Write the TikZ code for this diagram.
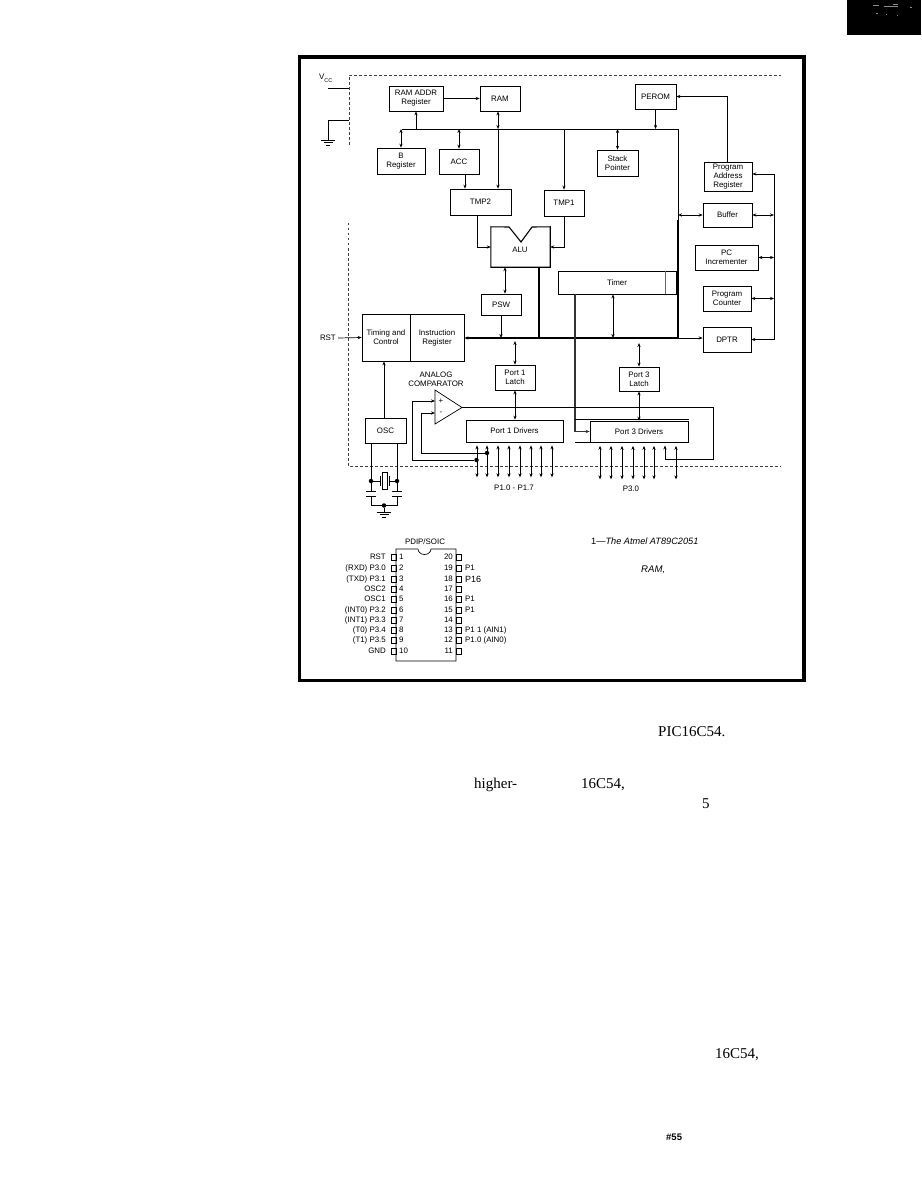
\documentclass[tikz,border=0pt]{standalone}
\usepackage{fontspec}
\setmainfont{Liberation Sans}
\newfontfamily\bodyfont{Liberation Serif}
\usetikzlibrary{arrows.meta}
\tikzset{
	blk/.style={draw,line width=.7pt,inner sep=0pt,align=center,font=\fontsize{7.9}{9}\selectfont},
	lbl/.style={inner sep=0pt,align=center,font=\fontsize{7.9}{9}\selectfont},
	wire/.style={line width=.7pt},
	fat/.style={line width=1.5pt},
	bnd/.style={line width=.5pt,dash pattern=on 2.5pt off 2.5pt,black!75},
	dot/.style={circle,fill,inner sep=0pt,minimum size=4.5pt},
	pinbox/.style={draw,line width=.5pt,minimum width=5pt,minimum height=6.5pt,inner sep=0pt},
	body/.style={inner sep=0pt,anchor=west,font=\bodyfont\fontsize{15}{16}\selectfont},
	gnd/.pic={
		\draw[wire] (-7,0) -- (7,0);
		\draw[wire] (-4.5,2.5) -- (4.5,2.5);
		\draw[wire] (-2,5) -- (2,5);
	},
}
\begin{document}
\begin{tikzpicture}[x=1pt,y=-1pt,>={Stealth[length=4pt,width=3.2pt]}]
	\useasboundingbox (0,0) rectangle (921,1190);

	% corner block
	\fill[black] (847,0) rectangle (921,35);
	\foreach \x/\y/\w in {873/5/6,884/6/14,893/4/5,876/13/2,910/7/2,886/14/1,897/15/1}
		\fill[black!45] (\x,\y) rectangle ++(\w,1);

	% outer frame
	\draw[line width=3.5pt] (299.5,57) rectangle (804,680.5);

	% chip boundary
	\draw[bnd] (349,145) -- (349,75) -- (781,75);
	\draw[bnd] (348,223) -- (348,466) -- (781,466);

	% supply
	\node[lbl,anchor=west] (vcc) at (319,78) {V\raisebox{-3pt}{\fontsize{5.5}{6}\selectfont CC}};
	\coordinate (vccin) at (349,88);
	\coordinate (gndin) at (349,120);
	\coordinate (gndpt) at (328,140);
	\draw[wire] (vccin) -- ++(-21,0);
	\draw[wire] (gndin) -| (gndpt);
	\pic at (gndpt) {gnd};

	% registers
	\node[blk,minimum width=54pt,minimum height=25pt] (ramaddr) at (416,98.5) {RAM ADDR\\Register};
	\node[blk,minimum width=40pt,minimum height=25pt] (ram) at (500,98.5) {RAM};
	\node[blk,minimum width=48pt,minimum height=26pt] (breg) at (401,161) {B\\Register};
	\node[blk,minimum width=40pt,minimum height=25pt] (acc) at (459,161.5) {ACC};
	\node[blk,minimum width=61pt,minimum height=26pt] (tmptwo) at (480.5,202) {TMP2};
	\node[blk,minimum width=40pt,minimum height=26pt] (tmpone) at (564,203) {TMP1};
	\node[blk,minimum width=41pt,minimum height=26pt] (stack) at (617.5,163) {Stack\\Pointer};
	\node[blk,minimum width=41pt,minimum height=25pt] (perom) at (655.5,96.5) {PEROM};
	\node[blk,minimum width=48pt,minimum height=29pt] (progaddr) at (728,176.5) {Program\\Address\\Register};
	\node[blk,minimum width=49pt,minimum height=24pt] (buffer) at (727.5,215) {Buffer};
	\node[blk,minimum width=63pt,minimum height=25pt] (pcinc) at (726.5,257.5) {PC\\Incrementer};
	\node[blk,minimum width=48pt,minimum height=25pt] (progcnt) at (727,298.5) {Program\\Counter};
	\node[blk,minimum width=48pt,minimum height=25pt] (dptr) at (727,339.5) {DPTR};
	\node[blk,minimum width=118pt,minimum height=23pt] (timer) at (617,282.5) {Timer};
	\node[blk,minimum width=40pt,minimum height=21pt] (psw) at (501,304.5) {PSW};
	\node[blk,minimum width=48pt,minimum height=47pt] (timing) at (386,337.5) {Timing and\\Control};
	\node[blk,minimum width=54pt,minimum height=47pt] (instr) at (437,337.5) {Instruction\\Register};
	\node[blk,minimum width=41pt,minimum height=25pt] (osc) at (385.5,430.5) {OSC};
	\node[blk,minimum width=40pt,minimum height=25pt] (latchone) at (515,377.5) {Port 1\\Latch};
	\node[blk,minimum width=40pt,minimum height=24pt] (latchthree) at (639,379) {Port 3\\Latch};
	\node[blk,minimum width=97pt,minimum height=22pt] (drvone) at (514.5,431) {Port 1 Drivers};
	\node[blk,minimum width=98pt,minimum height=21pt] (drvthree) at (639,431.5) {Port 3 Drivers};

	% ALU with its notch
	\node[minimum width=59pt,minimum height=40pt,inner sep=0pt] (alu) at (520.5,247) {};
	\node[lbl] (alutext) at (520,250) {ALU};
	\draw[line width=1.1pt] (alu.north west) -- (509,227) -- (521,242) -- (532,227) -- (alu.north east) -- (alu.south east) -- (alu.south west) -- cycle;
	\draw[wire,black!60] ([xshift=-11pt]timer.north east) -- ([xshift=-11pt]timer.south east);

	% buses
	\coordinate (bustl) at (402,129);
	\coordinate (bustr) at (678,129);
	\coordinate (busmain) at (600,338);
	\coordinate (busfat) at (677.5,220);
	\coordinate (busrt) at (774,174);
	\coordinate (busrb) at (774,340);
	\draw[wire] (bustl) -- (bustr) -- (bustr |- busmain);
	\draw[fat] (busfat) -- (busfat |- busmain);
	\draw[fat,<-] (instr.east |- busmain) -- (busfat |- busmain);
	\draw[wire,->] (busfat |- busmain) -- (dptr.west |- busmain);
	\draw[wire] (busrt) -- (busrb);

	% register connections
	\draw[wire,->] (ramaddr.east) -- (ram.west);
	\draw[wire,->] (ramaddr.south |- bustl) -- (ramaddr.south);
	\draw[wire,<->] (breg.north) -- (breg.north |- bustl);
	\draw[wire,<->] (acc.north) -- (acc.north |- bustl);
	\draw[wire,<->] ([xshift=-2pt]ram.south) -- ([xshift=-2pt]ram.south |- bustl);
	\draw[wire,->] ([xshift=-2pt]ram.south |- bustl) -- ([xshift=-2pt]ram.south |- tmptwo.north);
	\draw[wire,->] ([xshift=6pt]acc.south) -- ([xshift=6pt]acc.south |- tmptwo.north);
	\draw[wire,->] (tmpone.north |- bustl) -- (tmpone.north);
	\draw[wire,<->] (stack.north) -- (stack.north |- bustl);
	\draw[wire,->] (perom.south) -- (perom.south |- bustl);
	\draw[wire,->] ([xshift=-1pt]progaddr.north) |- (perom.east);
	\draw[wire,->] ([xshift=-3.5pt]tmptwo.south) |- (alu.west);
	\draw[wire,->] (tmpone.south) |- (alu.east);
	\draw[wire,<->] ([xshift=-15.5pt]alu.south) -- ([xshift=4pt]psw.north);
	\draw[fat] ([xshift=18.5pt]alu.south) -- ([xshift=18.5pt]alu.south |- busmain);
	\draw[wire,->] (psw.south) -- (psw.south |- busmain);
	\draw[wire,<->] ([xshift=-4pt]timer.south) -- ([xshift=-4pt]timer.south |- busmain);
	\draw[wire,<->] (buffer.west) -- (bustr |- buffer.west);
	\draw[wire,<-] (busrt -| progaddr.east) -- (busrt);
	\draw[wire,<->] (buffer.east) -- (busrt |- buffer.east);
	\draw[wire,<->] (pcinc.east) -- (busrt |- pcinc.east);
	\draw[wire,<->] (progcnt.east) -- (busrt |- progcnt.east);
	\draw[wire,<-] (dptr.east) -- (busrb |- dptr.east);

	% timing and clock
	\node[lbl,anchor=east] (rst) at (336,338) {RST};
	\draw[wire,->] (rst.east) ++(2,0) -- (timing.west);
	\draw[wire,->] ([xshift=-1.5pt]osc.north) -- ([xshift=-1.5pt]osc.north |- timing.south);

	% ports
	\draw[wire,<->] ([yshift=-3pt]latchone.north |- busmain) -- (latchone.north);
	\draw[wire,<->] (latchone.south) -- (latchone.south |- drvone.north);
	\draw[wire,<->] ([yshift=-5pt]latchthree.north |- busmain) -- (latchthree.north);
	\draw[wire,<->] (latchthree.south) -- (latchthree.south |- drvthree.north);
	\foreach \x in {-37.5,-27.5,-16.5,-5.5,5.5,16.5,26.5,37.5}
		\draw[wire,<->] ([shift={(\x,3)}]drvone.south) -- ([shift={(\x,35)}]drvone.south);
	\foreach \x in {-39,-28,-17,-6,5,15,37}
		\draw[wire,<->] ([shift={(\x,3.5)}]drvthree.south) -- ([shift={(\x,37)}]drvthree.south);
	\node[lbl] (plone) at (514,488) {P1.0 - P1.7};
	\node[lbl] (plthree) at (631,489) {P3.0};

	% timer output into port 3
	\coordinate (tmrout) at (575,338);
	\draw[fat,black!80] ([xshift=-42pt]timer.south) -- (tmrout);
	\draw[line width=1.1pt,black!80,->] (tmrout) |- (drvthree.west);
	\draw[wire] (drvthree.north west) ++(-15,-1) -- ++(114,0);
	\draw[wire] (drvthree.south west) -- ++(-15,0);

	% analog comparator
	\node[lbl] (cmptext) at (436,379.5) {ANALOG\\COMPARATOR};
	\coordinate (cmpa) at (435,390);
	\coordinate (cmpb) at (435,424);
	\coordinate (cmpout) at (462,407.5);
	\draw[wire] (cmpa) -- (cmpb) -- (cmpout) -- cycle;
	\node[lbl] (cmpplus) at (441,401) {+};
	\node[lbl] (cmpminus) at (441,413) {-};
	\draw[wire,line width=1pt] (cmpout) -- (713,407.5) -- (713,459) -- (665,459);
	\draw[wire,->] (665,459) -- (665,445.5);
	\node[dot] (dotp) at (476.5,460) {};
	\node[dot] (dotm) at (487,453) {};
	\draw[wire,->,line width=1pt] (dotp) -| (412,401) -- (435,401);
	\draw[wire,->,line width=1pt] (dotm) -| (421,413) -- (435,413);

	% crystal and load capacitors
	\node[dot] (xl) at (371,481) {};
	\node[dot] (xr) at (397,481) {};
	\node[dot] (xg) at (384,505.5) {};
	\node[draw,line width=.6pt,minimum width=5pt,minimum height=17pt,inner sep=0pt] (xtal) at (384.5,480.5) {};
	\draw[wire] (osc.south -| xl) -- (xl) -- (371,491);
	\draw[wire] (osc.south -| xr) -- (xr) -- (397,491);
	\draw[wire] (xl) -- (380,481) ++(0,-5) -- ++(0,10);
	\draw[wire] (xr) -- (389,481) ++(0,-5) -- ++(0,10);
	\foreach \x in {371,397}{
		\draw[wire] (\x-5,491) -- (\x+5,491);
		\draw[wire] (\x-5,496.5) -- (\x+5,496.5);
	}
	\draw[wire] (371,496.5) |- (xg) -| (397,496.5);
	\draw[wire] (xg) -- (384,512);
	\coordinate (gndx) at (384,512);
	\pic at (gndx) {gnd};

	% package outline
	\node[lbl] (pkgtitle) at (425,541.5) {PDIP/SOIC};
	\draw[wire] (418,549) -- (396,549) -- (396,661) -- (456,661) -- (456,549) -- (431,549)
		arc (0:180:6.5 and 5.5);
	\foreach \n/\y/\t in {1/557/RST,2/568/(RXD) P3.0,3/579/(TXD) P3.1,4/589/OSC2,5/599/OSC1,6/610/(INT0) P3.2,7/620/(INT1) P3.3,8/630/(T0) P3.4,9/640/(T1) P3.5,10/651/GND}{
		\node[pinbox] (lpin\n) at (393.5,\y) {};
		\node[lbl,anchor=east] at (386,\y) {\t};
		\node[lbl,anchor=west] at (399,\y) {\n};
	}
	\foreach \n/\y/\t in {20/557/,19/568/P1,18/579/{\fontsize{9}{9}\selectfont P16},17/589/,16/599/P1,15/610/P1,14/620/,13/630/P1 1 (AIN1),12/640/P1.0 (AIN0),11/651/}{
		\node[pinbox] (rpin\n) at (458.5,\y) {};
		\node[lbl,anchor=west] at (465,\y) {\t};
		\node[lbl,anchor=east] at (453,\y) {\n};
	}

	% caption
	\node[inner sep=0pt,anchor=west] (capone) at (591,541) {\fontsize{9.2}{10}\selectfont 1---\textit{The Atmel AT89C2051}};
	\node[inner sep=0pt,anchor=west] (captwo) at (641,570) {\fontsize{9.6}{10}\selectfont\textit{RAM,}};

	% running text below the frame
	\node[body] (txta) at (658,732) {PIC16C54.};
	\node[body] (txtb) at (474,785) {higher-};
	\node[body] (txtc) at (581,785) {16C54,};
	\node[body] (txtd) at (702,804) {5};
	\node[body] (txte) at (715,1055) {16C54,};
	\node[inner sep=0pt,anchor=west,font=\bfseries\fontsize{9.5}{10}\selectfont] (pageno) at (666,1137) {\#55};
\end{tikzpicture}
\end{document}
